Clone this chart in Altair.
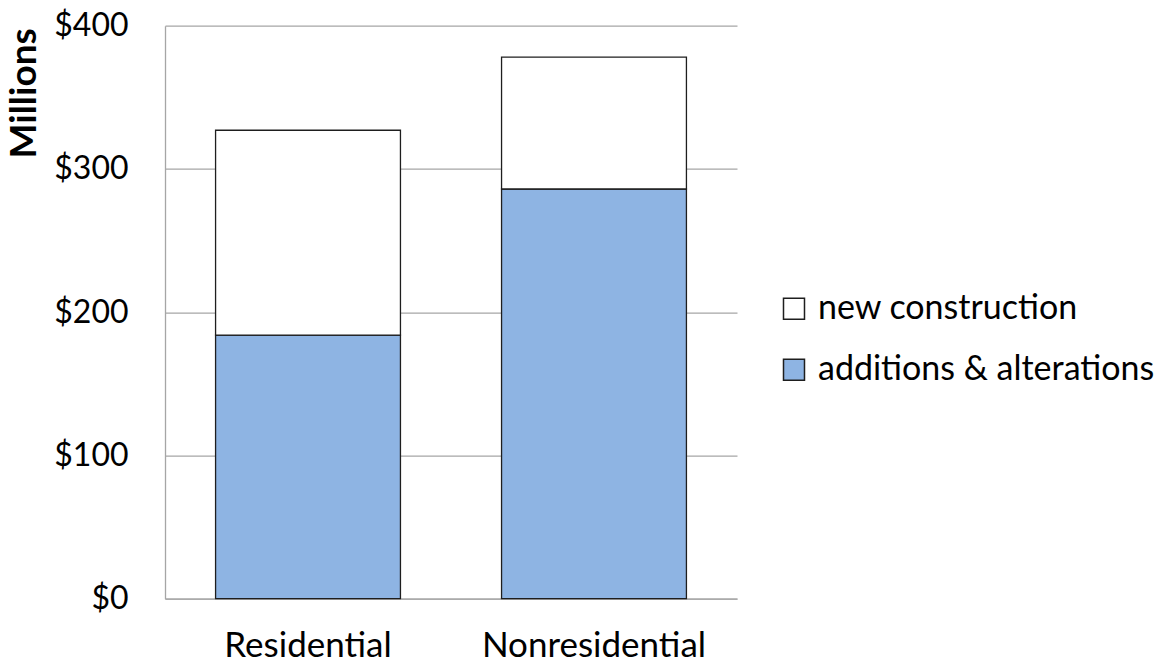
import altair as alt
import pandas as pd

categories = ["Residential", "Nonresidential"]
series_names = ["new construction", "additions & alterations"]
additions = [184, 286]
new_construction = [143, 92]
y_ticks = [0, 100, 200, 300, 400]
colors = ["#FFFFFF", "#8EB4E3"]

rows = []
for i, c in enumerate(categories):
    rows.append({"category": c, "series": series_names[1], "value": additions[i], "rank": 0})
    rows.append({"category": c, "series": series_names[0], "value": new_construction[i], "rank": 1})
df = pd.DataFrame(rows)

FONT = "Lato"
GRID = "#A6A6A6"

chart = (
    alt.Chart(df)
    .mark_bar(stroke="#1E1E1E", strokeWidth=1.3)
    .encode(
        x=alt.X(
            "category:N",
            sort=categories,
            scale=alt.Scale(paddingInner=0.3535, paddingOuter=0.1768),
            axis=alt.Axis(
                title=None,
                labelAngle=0,
                labelFontSize=35,
                labelFont=FONT,
                labelColor="#000000",
                labelPadding=58,
                labelBaseline="alphabetic",
                labelLimit=0,
                ticks=False,
                domainColor=GRID,
                domainWidth=1.3,
                grid=False,
            ),
        ),
        y=alt.Y(
            "value:Q",
            stack="zero",
            scale=alt.Scale(domain=[0, 400], nice=False),
            axis=alt.Axis(
                values=y_ticks,
                format="$.0f",
                title="Millions",
                titleFont=FONT,
                titleFontSize=37,
                titleFontWeight="bold",
                titleColor="#000000",
                titleAngle=270,
                titleAlign="right",
                titleBaseline="middle",
                titleX=-141,
                titleY=2,
                labelFontSize=32,
                labelFont=FONT,
                labelColor="#000000",
                labelPadding=37,
                labelBaseline="middle",
                labelLimit=0,
                ticks=False,
                domainColor=GRID,
                domainWidth=1.3,
                gridColor=GRID,
                gridWidth=1.3,
            ),
        ),
        color=alt.Color(
            "series:N",
            scale=alt.Scale(domain=series_names, range=colors),
            sort=series_names,
            legend=alt.Legend(
                title=None,
                orient="none",
                legendX=612,
                legendY=266,
                symbolType="square",
                symbolSize=441,
                symbolStrokeColor="#1E1E1E",
                symbolStrokeWidth=1.5,
                symbolOpacity=1,
                labelFont=FONT,
                labelFontSize=34,
                labelColor="#000000",
                labelOffset=7,
                labelLimit=0,
                rowPadding=27,
            ),
        ),
        order=alt.Order("rank:Q", sort="ascending"),
    )
    .properties(
        width=572,
        height=573,
        autosize=alt.AutoSizeParams(type="none"),
        padding={"left": 157, "top": 17.7, "right": 420, "bottom": 60},
        view=alt.ViewBackground(stroke=None, strokeWidth=0),
    )
    .configure_view(strokeWidth=0)
    .configure_axisX(grid=False)
    .configure(background="#FFFFFF")
)

chart.save("out.html", embed_options={"renderer": "svg", "actions": False})
